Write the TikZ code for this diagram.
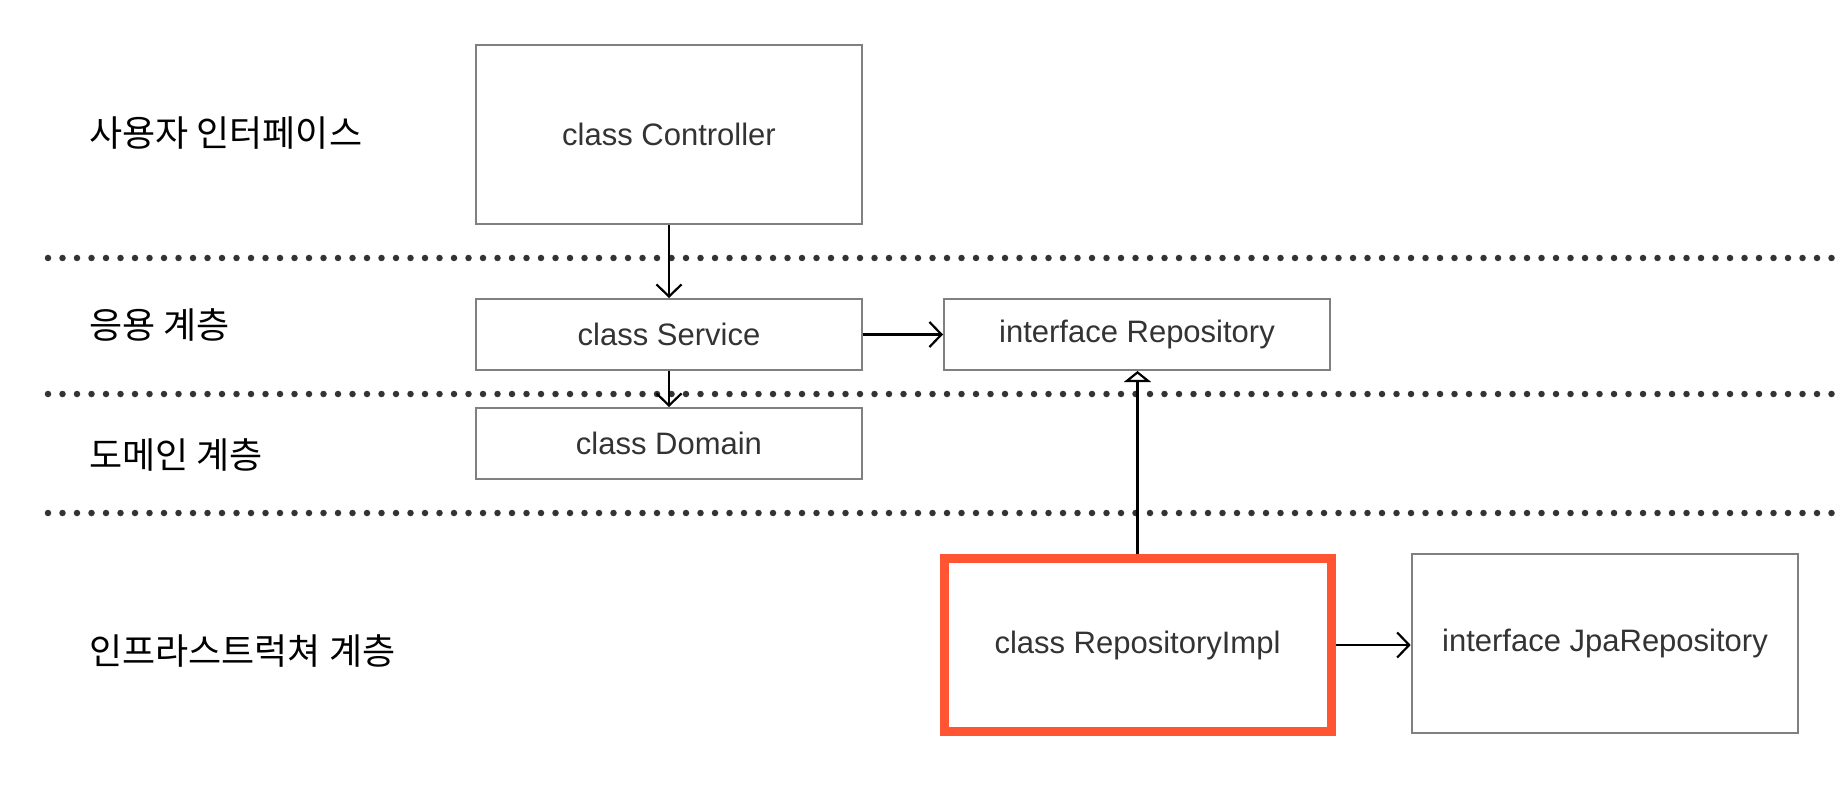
\documentclass[tikz,border=0pt]{standalone}
\usepackage{fontspec}
\setmainfont{Liberation Sans}
\newfontfamily\kofont{Noto Sans CJK KR}
\usetikzlibrary{arrows.meta}
\definecolor{boxgray}{RGB}{128,128,128}
\definecolor{txtgray}{RGB}{51,51,51}
\definecolor{hired}{RGB}{255,85,51}
\definecolor{dotgray}{RGB}{51,51,51}
\begin{document}
\begin{tikzpicture}[x=1pt,y=-1pt,
  cls/.style={draw=boxgray, line width=2pt, text=txtgray, font=\fontsize{31}{36}\selectfont, inner sep=0pt, rectangle},
  layer/.style={anchor=west, font=\kofont\fontsize{36}{42}\selectfont, inner sep=0pt, text=black},
  sep/.style={draw=dotgray, line width=6.5pt, line cap=round, dash pattern=on 0pt off 14.5pt},
  dep/.style={line width=2.2pt, -{Straight Barb[length=12pt,width=25pt]}},
  real/.style={line width=2.2pt, -{Triangle[open,length=11pt,width=27pt,fill=white]}}
]
\useasboundingbox[fill=white] (0,0) rectangle (1844,786);

% layer separators
\draw[sep] (48,258) -- (1844,258);
\draw[sep] (48,394) -- (1844,394);
\draw[sep] (48,513) -- (1844,513);

% layer labels
\node[layer] (l1) at (89,133.5) {사용자 인터페이스};
\node[layer] (l2) at (89,324.5) {응용 계층};
\node[layer] (l3) at (89,454.5) {도메인 계층};
\node[layer] (l4) at (89,651) {인프라스트럭쳐 계층};

% classes
\node[cls, minimum width=386pt, minimum height=179pt] (ctrl) at (669,134.5) {class Controller};
\node[cls, minimum width=386pt, minimum height=71pt, fill=white] (svc) at (669,334.5) {class Service};
\node[cls, minimum width=386pt, minimum height=71pt, fill=white] (dom) at (669,443.5) {class Domain};
\node[cls, minimum width=386pt, minimum height=71pt] (repo) at (1137,334.5) {interface Repository};
\node[cls, draw=hired, line width=9pt, minimum width=387pt, minimum height=172.5pt] (impl) at (1137.5,645) {class RepositoryImpl};
\node[cls, minimum width=386.6pt, minimum height=179pt] (jpa) at (1605,643.5) {interface JpaRepository};

% connectors
\draw[dep] (ctrl.south) -- (svc.north);
\draw[dep] (svc.south) -- (dom.north);
\draw[dep] (svc.east) -- (repo.west);
\draw[real] (impl.north) -- (impl.north |- repo.south);
\draw[dep] (impl.east) -- (impl.east -| jpa.west);
\end{tikzpicture}
\end{document}
